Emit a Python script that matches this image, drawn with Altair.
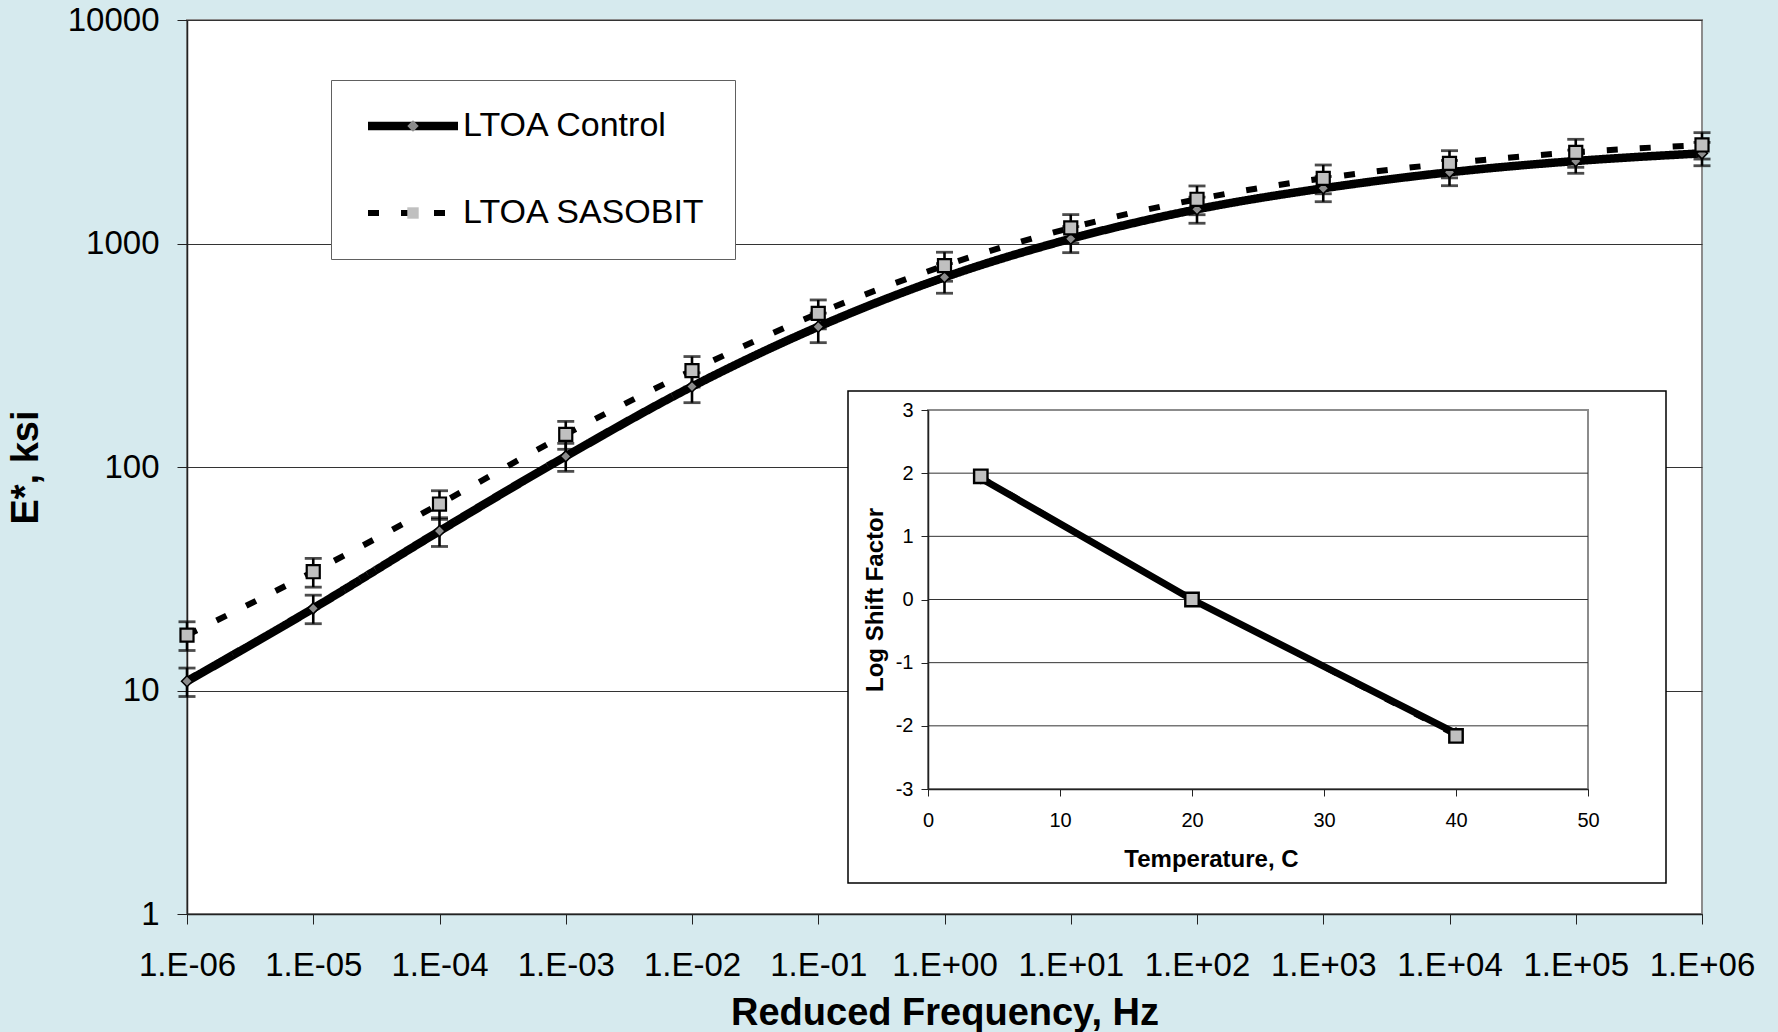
import altair as alt
import pandas as pd

# Dynamic modulus master curves, E* (ksi) at reduced frequency (Hz)
FREQ_HZ = [1e-6, 1e-5, 1e-4, 1e-3, 1e-2, 1e-1, 1e0, 1e1, 1e2, 1e3, 1e4, 1e5, 1e6]
CONTROL_E = [11.0, 23.3, 51.7, 111.6, 229, 424, 706, 1050, 1422, 1766, 2083, 2339, 2531]
CONTROL_SD = [1.6, 3.4, 7.6, 16, 35, 64, 107, 140, 190, 228, 269, 278, 303]
SASOBIT_E = [17.7, 34.0, 68.3, 140, 270, 487, 796, 1175, 1577, 1957, 2284, 2559, 2760]
SASOBIT_SD = [2.6, 5.0, 10, 20, 42, 72, 118, 172, 232, 288, 318, 366, 373]

# Shift factor functions (inset)
TEMP_C = [4, 20, 40]
CONTROL_SHIFT = [1.92, 0.0, -2.12]
SASOBIT_SHIFT = [1.95, 0.0, -2.16]

SERIES = ["LTOA Control", "LTOA SASOBIT"]
Y_TICKS = [1, 10, 100, 1000, 10000]
X_TICKS = FREQ_HZ
INSET_X_TICKS = [0, 10, 20, 30, 40, 50]
INSET_Y_TICKS = [-3, -2, -1, 0, 1, 2, 3]
INSET_GRID = [-2, -1, 0, 1, 2]

FONT = "Liberation Sans"

# ---- layout (pixels, relative to the main plot area) ----
PLOT_W, PLOT_H = 1515, 894
PAD = {"left": 187, "top": 20, "right": 76, "bottom": 118}
INSET_X_RANGE = [741, 1401]
INSET_Y_RANGE = [769, 390]
INSET_FRAME = dict(x=661, x2=1479, y=371, y2=863)
LEGEND_X, LEGEND_Y, LEGEND_PAD, LEGEND_ROW_PAD = 144, 60, 29, 53
# legend line swatch: 90 px long, drawn as a custom path around the symbol centre
SWATCH_PATH = "M-0.9,0H8.1"

rows = []
for s, vals, sds in [(SERIES[0], CONTROL_E, CONTROL_SD), (SERIES[1], SASOBIT_E, SASOBIT_SD)]:
    for f, v, sd in zip(FREQ_HZ, vals, sds):
        rows.append({"series": s, "marker": s, "freq": f, "E": v, "lo": v - sd, "hi": v + sd})
main_df = pd.DataFrame(rows)

inset_rows = []
for s, vals in [(SERIES[0], CONTROL_SHIFT), (SERIES[1], SASOBIT_SHIFT)]:
    for t, v in zip(TEMP_C, vals):
        inset_rows.append({"series": s, "temp": t, "shift": v})
inset_df = pd.DataFrame(inset_rows)

# ---- main axes ----
X_AXIS = alt.Axis(
    values=X_TICKS,
    labelExpr="'1.E' + (datum.value < 1 ? '-' : '+') + "
              "(abs(round(log(datum.value)/LN10)) < 10 ? '0' : '') + abs(round(log(datum.value)/LN10))",
    title="Reduced Frequency, Hz", grid=False,
    labelFont=FONT, labelFontSize=33, labelColor="black", labelPadding=25,
    labelFlush=False, labelOverlap=False,
    tickSize=10, tickColor="#222", domainColor="#222", domainWidth=1.5,
    titleFont=FONT, titleFontSize=38, titleFontWeight="bold", titleColor="black", titlePadding=12,
)
Y_AXIS = alt.Axis(
    values=Y_TICKS, format="d", title="E*, ksi",
    grid=True, gridColor="#333", gridWidth=1,
    labelFont=FONT, labelFontSize=33, labelColor="black", labelPadding=18,
    labelFlush=False, labelOverlap=False,
    tickSize=10, tickColor="#222", domainColor="#222", domainWidth=1.5,
    titleFont=FONT, titleFontSize=38, titleFontWeight="bold", titleColor="black", titlePadding=22,
)
x_scale = alt.Scale(type="log", domain=[1e-6, 1e6], nice=False)
y_scale = alt.Scale(type="log", domain=[1, 10000], nice=False)

X = alt.X("freq:Q", scale=x_scale, axis=X_AXIS)

LEGEND_LINES = alt.Legend(
    title=None, orient="none", legendX=LEGEND_X, legendY=LEGEND_Y,
    symbolType=SWATCH_PATH, symbolSize=400, symbolStrokeColor="black",
    labelFont=FONT, labelFontSize=34, labelColor="black", labelOffset=69, labelLimit=600,
    padding=LEGEND_PAD, rowPadding=LEGEND_ROW_PAD, fillColor="white", strokeColor="#606060",
)
# marker-only legend laid over the line swatches; its labels are empty
LEGEND_MARKS = alt.Legend(
    title=None, orient="none", legendX=180, legendY=LEGEND_Y,
    symbolSize=130, symbolStrokeColor="black", symbolStrokeWidth=1.8,
    labelExpr="''", labelFont=FONT, labelFontSize=34, labelOffset=6, labelLimit=600,
    padding=LEGEND_PAD, rowPadding=LEGEND_ROW_PAD,
)

lines = alt.Chart(main_df).mark_line(interpolate="monotone", color="black", strokeCap="butt").encode(
    x=X,
    y=alt.Y("E:Q", scale=y_scale, axis=Y_AXIS),
    strokeDash=alt.StrokeDash("series:N", scale=alt.Scale(domain=SERIES, range=[[1, 0], [11, 22]]),
                              legend=LEGEND_LINES),
    strokeWidth=alt.StrokeWidth("series:N", scale=alt.Scale(type="ordinal", domain=SERIES, range=[8.5, 6]),
                                legend=LEGEND_LINES),
)

err_rule = alt.Chart(main_df).mark_rule(color="black", strokeWidth=2.6).encode(
    x=X,
    y=alt.Y("lo:Q", scale=y_scale, axis=Y_AXIS),
    y2="hi:Q",
)
err_lo = alt.Chart(main_df).mark_tick(orient="horizontal", color="black", size=17, thickness=2.8).encode(
    x=X, y=alt.Y("lo:Q", scale=y_scale, axis=Y_AXIS),
)
err_hi = alt.Chart(main_df).mark_tick(orient="horizontal", color="black", size=17, thickness=2.8).encode(
    x=X, y=alt.Y("hi:Q", scale=y_scale, axis=Y_AXIS),
)

# marker scales take their domain from the data so they keep a legend of their own
shape_enc = alt.Shape("marker:N", scale=alt.Scale(range=["diamond", "square"]), legend=LEGEND_MARKS)
fill_enc = alt.Fill("marker:N", scale=alt.Scale(range=["#8c8c8c", "#c0c0c0"]), legend=LEGEND_MARKS)

pts_control = alt.Chart(main_df[main_df.series == SERIES[0]]).mark_point(
    filled=True, stroke="black", strokeWidth=1.5, size=120, opacity=1
).encode(x=X, y=alt.Y("E:Q", scale=y_scale, axis=Y_AXIS), shape=shape_enc, fill=fill_enc)
pts_sasobit = alt.Chart(main_df[main_df.series == SERIES[1]]).mark_point(
    filled=True, stroke="black", strokeWidth=2.2, size=170, opacity=1
).encode(x=X, y=alt.Y("E:Q", scale=y_scale, axis=Y_AXIS), shape=shape_enc, fill=fill_enc)

main = alt.layer(lines, err_rule, err_lo, err_hi, pts_control, pts_sasobit)

# ---- inset: log shift factor vs temperature ----
INSET_X_AXIS = alt.Axis(
    values=INSET_X_TICKS, title="Temperature, C", grid=False, orient="bottom", offset=-125, zindex=1,
    labelFont=FONT, labelFontSize=20, labelColor="black", labelPadding=14,
    labelFlush=False, labelOverlap=False,
    tickSize=7, tickColor="#222", domainColor="#222", domainWidth=1.5,
    titleFont=FONT, titleFontSize=24, titleFontWeight="bold", titleColor="black", titlePadding=17,
    titleX=1024,
)
INSET_Y_AXIS = alt.Axis(
    values=INSET_Y_TICKS, title="Log Shift Factor", grid=False, orient="left", offset=-741, zindex=1,
    labelExpr="datum.value < 0 ? '-' + abs(datum.value) : '' + datum.value",
    labelFont=FONT, labelFontSize=20, labelColor="black", labelPadding=8,
    labelFlush=False, labelOverlap=False,
    tickSize=7, tickColor="#222", domainColor="#222", domainWidth=1.5,
    titleFont=FONT, titleFontSize=24, titleFontWeight="bold", titleColor="black", titlePadding=8,
)
ix_scale = alt.Scale(domain=[0, 50], range=INSET_X_RANGE, nice=False, zero=False)
iy_scale = alt.Scale(domain=[-3, 3], range=INSET_Y_RANGE, nice=False, zero=False)
IX = alt.X("temp:Q", scale=ix_scale, axis=INSET_X_AXIS)
IY = alt.Y("shift:Q", scale=iy_scale, axis=INSET_Y_AXIS)

one = pd.DataFrame({"k": [0]})
frame = alt.Chart(one).mark_rect(fill="white", stroke="black", strokeWidth=1.5).encode(
    x=alt.value(INSET_FRAME["x"]), x2=alt.value(INSET_FRAME["x2"]),
    y=alt.value(INSET_FRAME["y"]), y2=alt.value(INSET_FRAME["y2"]),
)
plot_box = alt.Chart(one).mark_rect(fill="white", stroke="#8c8c8c", strokeWidth=2).encode(
    x=alt.value(INSET_X_RANGE[0]), x2=alt.value(INSET_X_RANGE[1]),
    y=alt.value(INSET_Y_RANGE[1]), y2=alt.value(INSET_Y_RANGE[0]),
)
grid = alt.Chart(pd.DataFrame({"shift": INSET_GRID})).mark_rule(color="#333", strokeWidth=1).encode(
    x=alt.value(INSET_X_RANGE[0]), x2=alt.value(INSET_X_RANGE[1]), y=IY,
)
ins_control = alt.Chart(inset_df[inset_df.series == SERIES[0]]).mark_line(
    color="black", strokeWidth=7
).encode(x=IX, y=IY)
ins_sasobit = alt.Chart(inset_df[inset_df.series == SERIES[1]]).mark_line(
    color="black", strokeWidth=4, strokeDash=[11, 22]
).encode(x=IX, y=IY)
ins_diamonds = alt.Chart(inset_df[inset_df.series == SERIES[0]]).mark_point(
    shape="diamond", filled=True, fill="#8c8c8c", stroke="black", strokeWidth=1.5, size=110, opacity=1
).encode(x=IX, y=IY)
ins_squares = alt.Chart(inset_df[inset_df.series == SERIES[1]]).mark_point(
    shape="square", filled=True, fill="#c0c0c0", stroke="black", strokeWidth=2.4, size=180, opacity=1
).encode(x=IX, y=IY)

inset = alt.layer(frame, plot_box, grid, ins_control, ins_sasobit, ins_diamonds, ins_squares)

chart = (
    alt.layer(main, inset)
    .resolve_scale(x="independent", y="independent")
    .properties(
        width=PLOT_W, height=PLOT_H, padding=PAD,
        autosize=alt.AutoSizeParams(type="none"),
        background="#d6eaee",
    )
    .configure_view(fill="white", stroke="#8c8c8c", strokeWidth=2)
)

chart.save("out.html", embed_options={"renderer": "svg", "actions": False})
